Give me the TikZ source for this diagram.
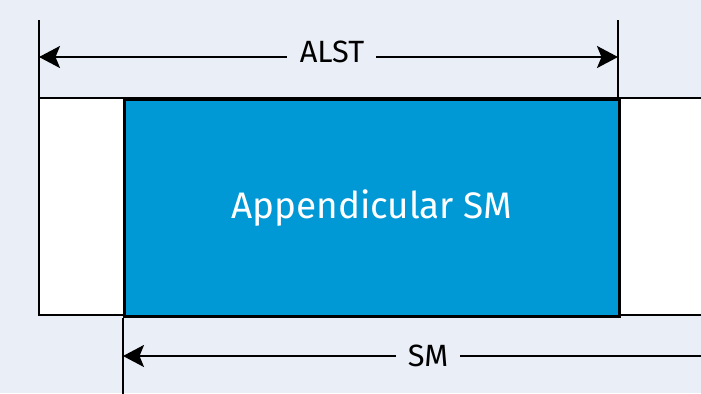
\documentclass[tikz,border=0pt]{standalone}
\usepackage{fontspec}
\setmainfont{Fira Sans}
\usetikzlibrary{arrows.meta}
\definecolor{panelbg}{HTML}{EAEEF7}
\definecolor{smblue}{HTML}{0099D6}
\tikzset{
  >={Stealth[length=4.2mm,width=4.4mm,inset=0.9mm]},
}
\tikzstyle{dimline}=[line width=1.2pt]
\tikzstyle{extline}=[line width=1.1pt]
\tikzstyle{segment}=[line width=1.6pt,draw=black]
\tikzstyle{dimlabel}=[fill=panelbg,inner xsep=7pt,font=\fontsize{17.5}{20}\selectfont]

\begin{document}
\begin{tikzpicture}[x=0.02cm,y=-0.02cm]
    \clip (0,0) rectangle (701,393);
    \fill[panelbg] (0,0) rectangle (701,393);
    % limb segment, open to the right
    \draw[segment,fill=white] (39,98) rectangle (730,315);
    \node (app) [segment,fill=smblue,anchor=north west,inner sep=0pt,
      minimum width=9.9cm,minimum height=4.34cm,text=white,
      font=\fontsize{21}{25}\selectfont] at (123,98) {Appendicular SM};
    % ALST dimension
    \coordinate (alstL) at (39,20);
    \coordinate (alstR) at (618,20);
    \draw[extline] (alstL) -- (alstL |- app.north);
    \draw[extline] (alstR) -- (alstR |- app.north);
    \draw[dimline,<->] (39,57) -- (618,57)
      node[dimlabel,pos=.506,yshift=3pt] (alst) {ALST};
    % SM dimension
    \coordinate (smL) at (123,318);
    \coordinate (smB) at (123,400);
    \draw[extline] (smL) -- (smB);
    \draw[dimline,<-] (123,356) -- (730,356);
    \node[dimlabel] (sm) at (428,356) {SM};
\end{tikzpicture}
\end{document}
